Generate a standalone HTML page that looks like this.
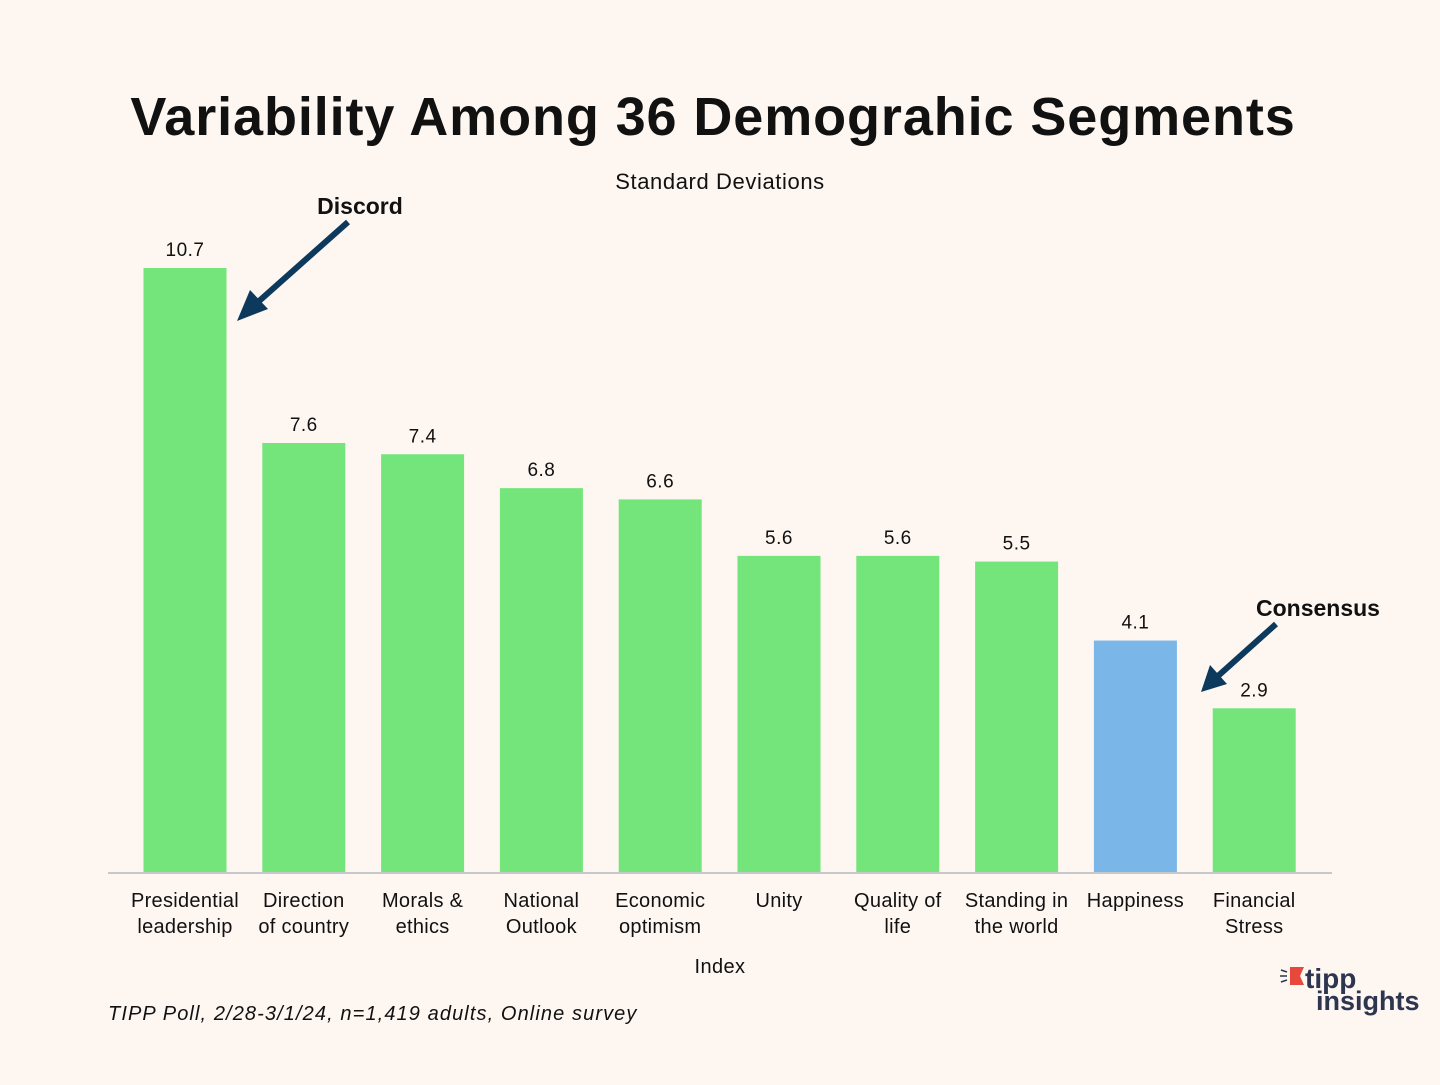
<!DOCTYPE html>
<html><head><meta charset="utf-8"><style>
body{margin:0;background:#fdf6f1;}
#wrap{position:relative;width:1440px;height:1080px;background:#fdf6f1;font-family:"Liberation Sans",sans-serif;}
svg text{font-family:"Liberation Sans",sans-serif;}
</style></head><body>
<div id="wrap">
<svg id="chart" width="1440" height="1080">
<text x="713" y="135" text-anchor="middle" font-size="54" font-weight="bold" fill="#111" letter-spacing="0.9">Variability Among 36 Demograhic Segments</text>
<text x="720" y="189" text-anchor="middle" font-size="22" fill="#111" letter-spacing="0.6">Standard Deviations</text>
<g id="bars"></g>
<line x1="108" y1="873" x2="1332" y2="873" stroke="#c8c8c8" stroke-width="2"/>
<text x="720" y="973" text-anchor="middle" font-size="20" fill="#111" letter-spacing="0.4">Index</text>
<text x="108" y="1020" font-size="20" font-style="italic" fill="#111" letter-spacing="1.1">TIPP Poll, 2/28-3/1/24, n=1,419 adults, Online survey</text>
<text x="360" y="214" text-anchor="middle" font-size="23" font-weight="bold" fill="#111">Discord</text>
<g>
<line x1="348" y1="222" x2="258" y2="302" stroke="#0d3a5c" stroke-width="6"/>
<polygon points="237,321 250,290 268,309" fill="#0d3a5c"/>
</g>
<text x="1318" y="616" text-anchor="middle" font-size="23" font-weight="bold" fill="#111">Consensus</text>
<g>
<line x1="1276" y1="624" x2="1218" y2="676" stroke="#0d3a5c" stroke-width="6"/>
<polygon points="1201,692 1210,665 1227,684" fill="#0d3a5c"/>
</g>
<g>
<polygon points="1290,967 1304,967 1300,976 1304,985 1290,985" fill="#e8483c"/>
<path d="M1281,970 l6,2 M1280,976 l7,0 M1281,982 l6,-2" stroke="#2d3550" stroke-width="1.5"/>
<text x="1305" y="988" font-size="28" font-weight="bold" fill="#2d3550">tipp</text>
<text x="1316" y="1010" font-size="27" font-weight="bold" fill="#2d3550">insights</text>
</g>
</svg>
</div>
<script>
const categories=[["Presidential","leadership"],["Direction","of country"],["Morals &","ethics"],["National","Outlook"],["Economic","optimism"],["Unity"],["Quality of","life"],["Standing in","the world"],["Happiness"],["Financial","Stress"]];
const values=[10.7,7.6,7.4,6.8,6.6,5.6,5.6,5.5,4.1,2.9];
const highlight=[false,false,false,false,false,false,false,false,true,false];
const NS="http://www.w3.org/2000/svg";
const base=872,pxPerUnit=56.45,x0=185,step=118.8,bw=83;
function xScale(i){return x0+i*step;}
function yScale(v){return base-v*pxPerUnit;}
const g=document.getElementById('bars');
values.forEach((v,i)=>{
  const cx=xScale(i);
  const r=document.createElementNS(NS,'rect');
  r.setAttribute('x',cx-bw/2);r.setAttribute('y',yScale(v));
  r.setAttribute('width',bw);r.setAttribute('height',base-yScale(v));
  r.setAttribute('fill',highlight[i]?'#7ab6e8':'#74e57b');
  
  
  g.appendChild(r);
  const t=document.createElementNS(NS,'text');
  t.setAttribute('x',cx);t.setAttribute('y',yScale(v)-12);
  t.setAttribute('text-anchor','middle');t.setAttribute('font-size','19');t.setAttribute('fill','#111');
  t.setAttribute('letter-spacing','0.5');
  t.textContent=v.toFixed(1);
  
  
  g.appendChild(t);
  categories[i].forEach((line,j)=>{
    const l=document.createElementNS(NS,'text');
    l.setAttribute('x',cx);l.setAttribute('y',907+j*26);
    l.setAttribute('text-anchor','middle');l.setAttribute('font-size','20');l.setAttribute('fill','#111');
    l.setAttribute('letter-spacing','0.3');
    l.textContent=line;
    
    
    g.appendChild(l);
  });
});
</script>
</body></html>
